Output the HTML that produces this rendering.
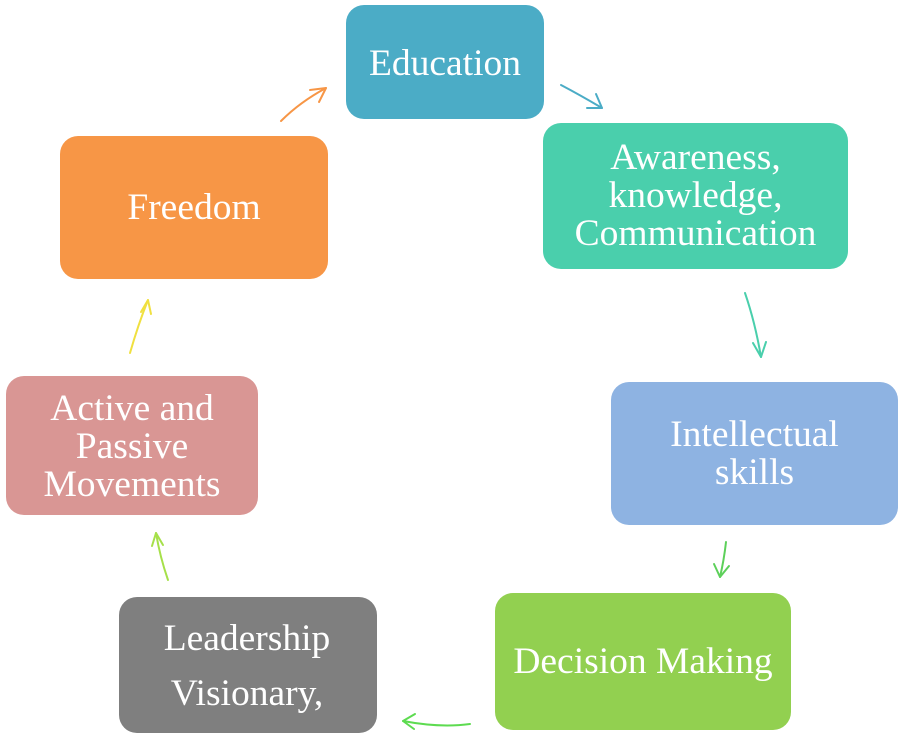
<!DOCTYPE html>
<html><head><style>
body{margin:0;width:904px;height:737px;background:#fff;position:relative;overflow:hidden;font-family:"Liberation Serif",serif;}
.b{position:absolute;border-radius:18px;color:#fff;display:flex;align-items:center;justify-content:center;text-align:center;font-size:37.5px;line-height:38px;}
svg{position:absolute;left:0;top:0}
</style></head><body>
<div class="b" style="left:346px;top:5px;width:198px;height:114px;background:#4BACC6;align-items:flex-start"><div style="margin-top:40px">Education</div></div>
<div class="b" style="left:543px;top:123px;width:305px;height:146px;background:#4ACFAC">Awareness,<br>knowledge,<br>Communication</div>
<div class="b" style="left:611px;top:382px;width:287px;height:143px;background:#8EB3E2"><div style="margin-left:0px;margin-top:0px">Intellectual<br>skills</div></div>
<div class="b" style="left:495px;top:593px;width:296px;height:137px;background:#92D050">Decision Making</div>
<div class="b" style="left:119px;top:597px;width:258px;height:136px;background:#7F7F7F;line-height:55px"><div style="margin-left:-2px;margin-top:2px">Leadership<br>Visionary,</div></div>
<div class="b" style="left:6px;top:376px;width:252px;height:139px;background:#D99694"><div style="margin-top:2px">Active and<br>Passive<br>Movements</div></div>
<div class="b" style="left:60px;top:136px;width:268px;height:143px;background:#F79646">Freedom</div>
<svg width="904" height="737" fill="none" stroke-width="2" stroke-linecap="round">
<g stroke="#F79646"><path d="M281 121 Q300 102 326 88"/><path d="M326 88 L310 90 M326 88 L319 102"/></g>
<g stroke="#4BACC6"><path d="M561 85 Q580 95 602 108"/><path d="M602 108 L587 108 M602 108 L596 94"/></g>
<g stroke="#4ACFAC"><path d="M745 293 Q755 322 761 357"/><path d="M761 357 L753 343 M761 357 L766 342"/></g>
<g stroke="#5DD05A"><path d="M726 542 Q724 560 720 577"/><path d="M720 577 L714 564 M720 577 L729 566"/></g>
<g stroke="#5DDB50"><path d="M470 724 Q440 728 403 721"/><path d="M403 721 L415 714 M403 721 L414 729"/></g>
<g stroke="#A6E04A"><path d="M168 580 Q160 557 156 533"/><path d="M156 533 L152 546 M156 533 L163 545"/></g>
<g stroke="#F0E040"><path d="M130 353 Q138 325 148 300"/><path d="M148 300 L141 312 M148 300 L151 314"/></g>
</svg>
</body></html>
